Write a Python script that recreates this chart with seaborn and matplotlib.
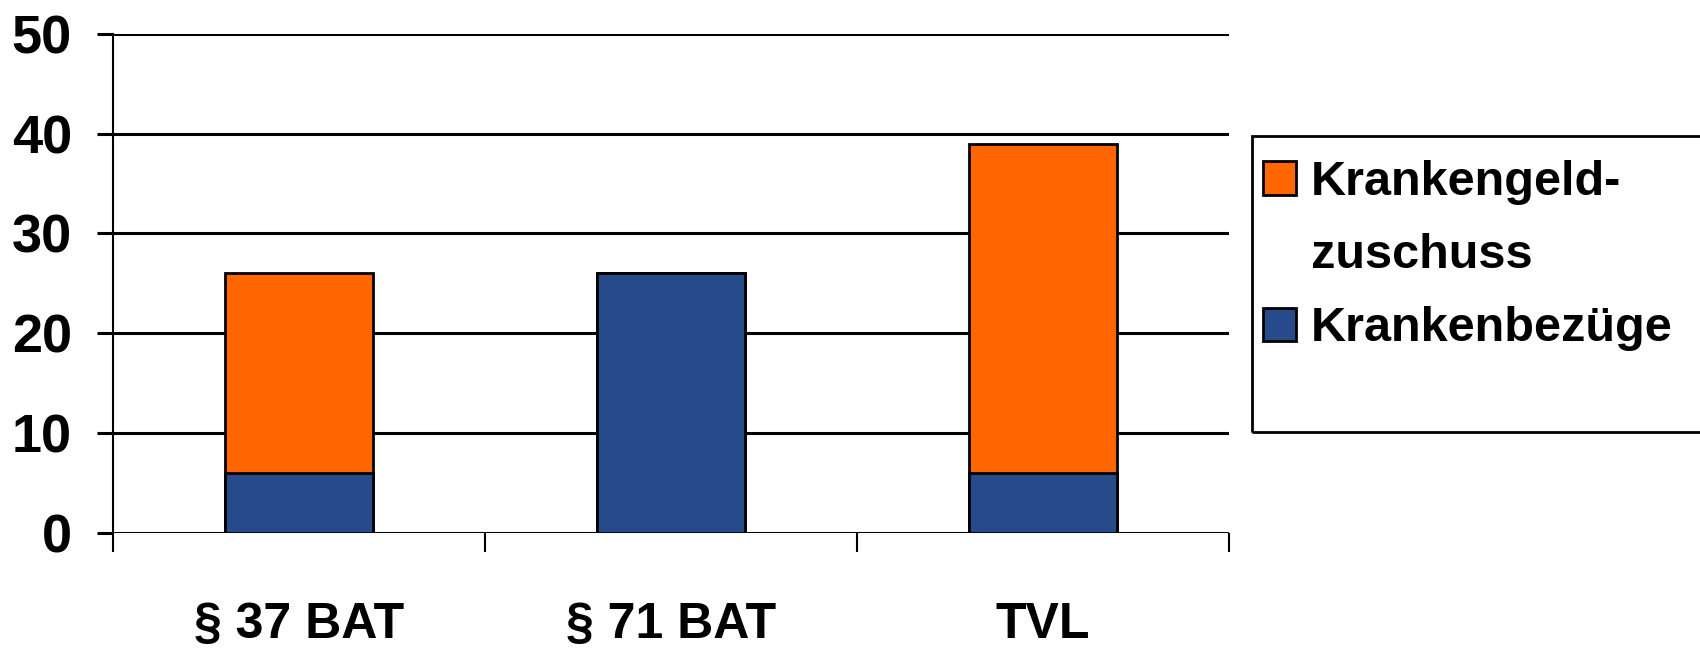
import pandas as pd
import numpy as np
import matplotlib.pyplot as plt
import seaborn as sns
from matplotlib.patches import Patch, Rectangle
from matplotlib.ticker import FixedLocator

# Daten
kategorien = ['§ 37 BAT', '§ 71 BAT', 'TVL']
krankenbezuege = [6, 26, 6]
krankengeldzuschuss = [20, 0, 33]

farbe_zuschuss = '#FF6600'
farbe_bezuege = '#264A8A'

sns.set_style('white')
plt.rcParams['font.family'] = ['Liberation Sans Narrow', 'Liberation Sans', 'DejaVu Sans']
plt.rcParams.update({
    'font.weight': 'bold',
    'text.color': 'black',
    'xtick.color': 'black',
    'ytick.color': 'black',
})

df = pd.DataFrame({
    'kategorie': kategorien,
    'bezuege': krankenbezuege,
    'zuschuss': krankengeldzuschuss,
})
df['gesamt'] = df['bezuege'] + df['zuschuss']

fig = plt.figure(figsize=(17, 6.5), dpi=100)
ax = fig.add_axes([0.0665, 0.18, 0.6565, 0.768])

# gestapelte Balken: erst Summe (orange), dann Krankenbezüge (blau) darüber
sns.barplot(data=df, x='kategorie', y='gesamt', color=farbe_zuschuss, width=0.4,
            edgecolor='black', linewidth=2, errorbar=None, saturation=1, ax=ax, zorder=3)
sns.barplot(data=df, x='kategorie', y='bezuege', color=farbe_bezuege, width=0.4,
            edgecolor='black', linewidth=2, errorbar=None, saturation=1, ax=ax, zorder=4)

ax.set_xlim(-0.5, 2.5)
ax.set_ylim(0, 50)
ax.set_yticks(range(0, 51, 10))
ax.set_xlabel('')
ax.set_ylabel('')

# Gitterlinien
ax.yaxis.grid(True, color='black', linewidth=2.2)
ax.set_axisbelow(True)

for s in ['top', 'right', 'bottom']:
    ax.spines[s].set_visible(False)
ax.spines['left'].set_linewidth(1.5)
ax.spines['left'].set_color('black')

ax.tick_params(axis='y', which='major', direction='out', length=11.5, width=2.2,
               labelsize=39, pad=18, left=True)
ax.tick_params(axis='x', which='major', length=0, labelsize=36, pad=50)
ax.xaxis.set_minor_locator(FixedLocator([-0.5, 0.5, 1.5, 2.5]))
ax.tick_params(axis='x', which='minor', direction='out', length=14, width=1.5,
               color='black', bottom=True)
for lbl in ax.get_xticklabels() + ax.get_yticklabels():
    lbl.set_fontweight('bold')

# Legende (zweite Zeile des ersten Eintrags ohne Symbol, damit das Symbol oben steht)
handles = [Patch(facecolor=farbe_zuschuss, edgecolor='black', linewidth=2),
           Patch(facecolor='none', edgecolor='none'),
           Patch(facecolor=farbe_bezuege, edgecolor='black', linewidth=2)]
labels = ['Krankengeld-', 'zuschuss', 'Krankenbezüge']
leg = fig.legend(handles, labels, loc='upper left', bbox_to_anchor=(1263 / 1700, 1 - 160 / 650),
                 frameon=False, prop={'size': 35, 'weight': 'bold'},
                 handlelength=0.68, handleheight=0.68, handletextpad=0.3,
                 labelspacing=0.58, borderaxespad=0, borderpad=0)
fig.add_artist(Rectangle((1252 / 1700, 1 - 432 / 650), 0.30, 296 / 650,
                         transform=fig.transFigure, fill=False,
                         edgecolor='black', linewidth=2))

plt.savefig('out.png', dpi=100)
